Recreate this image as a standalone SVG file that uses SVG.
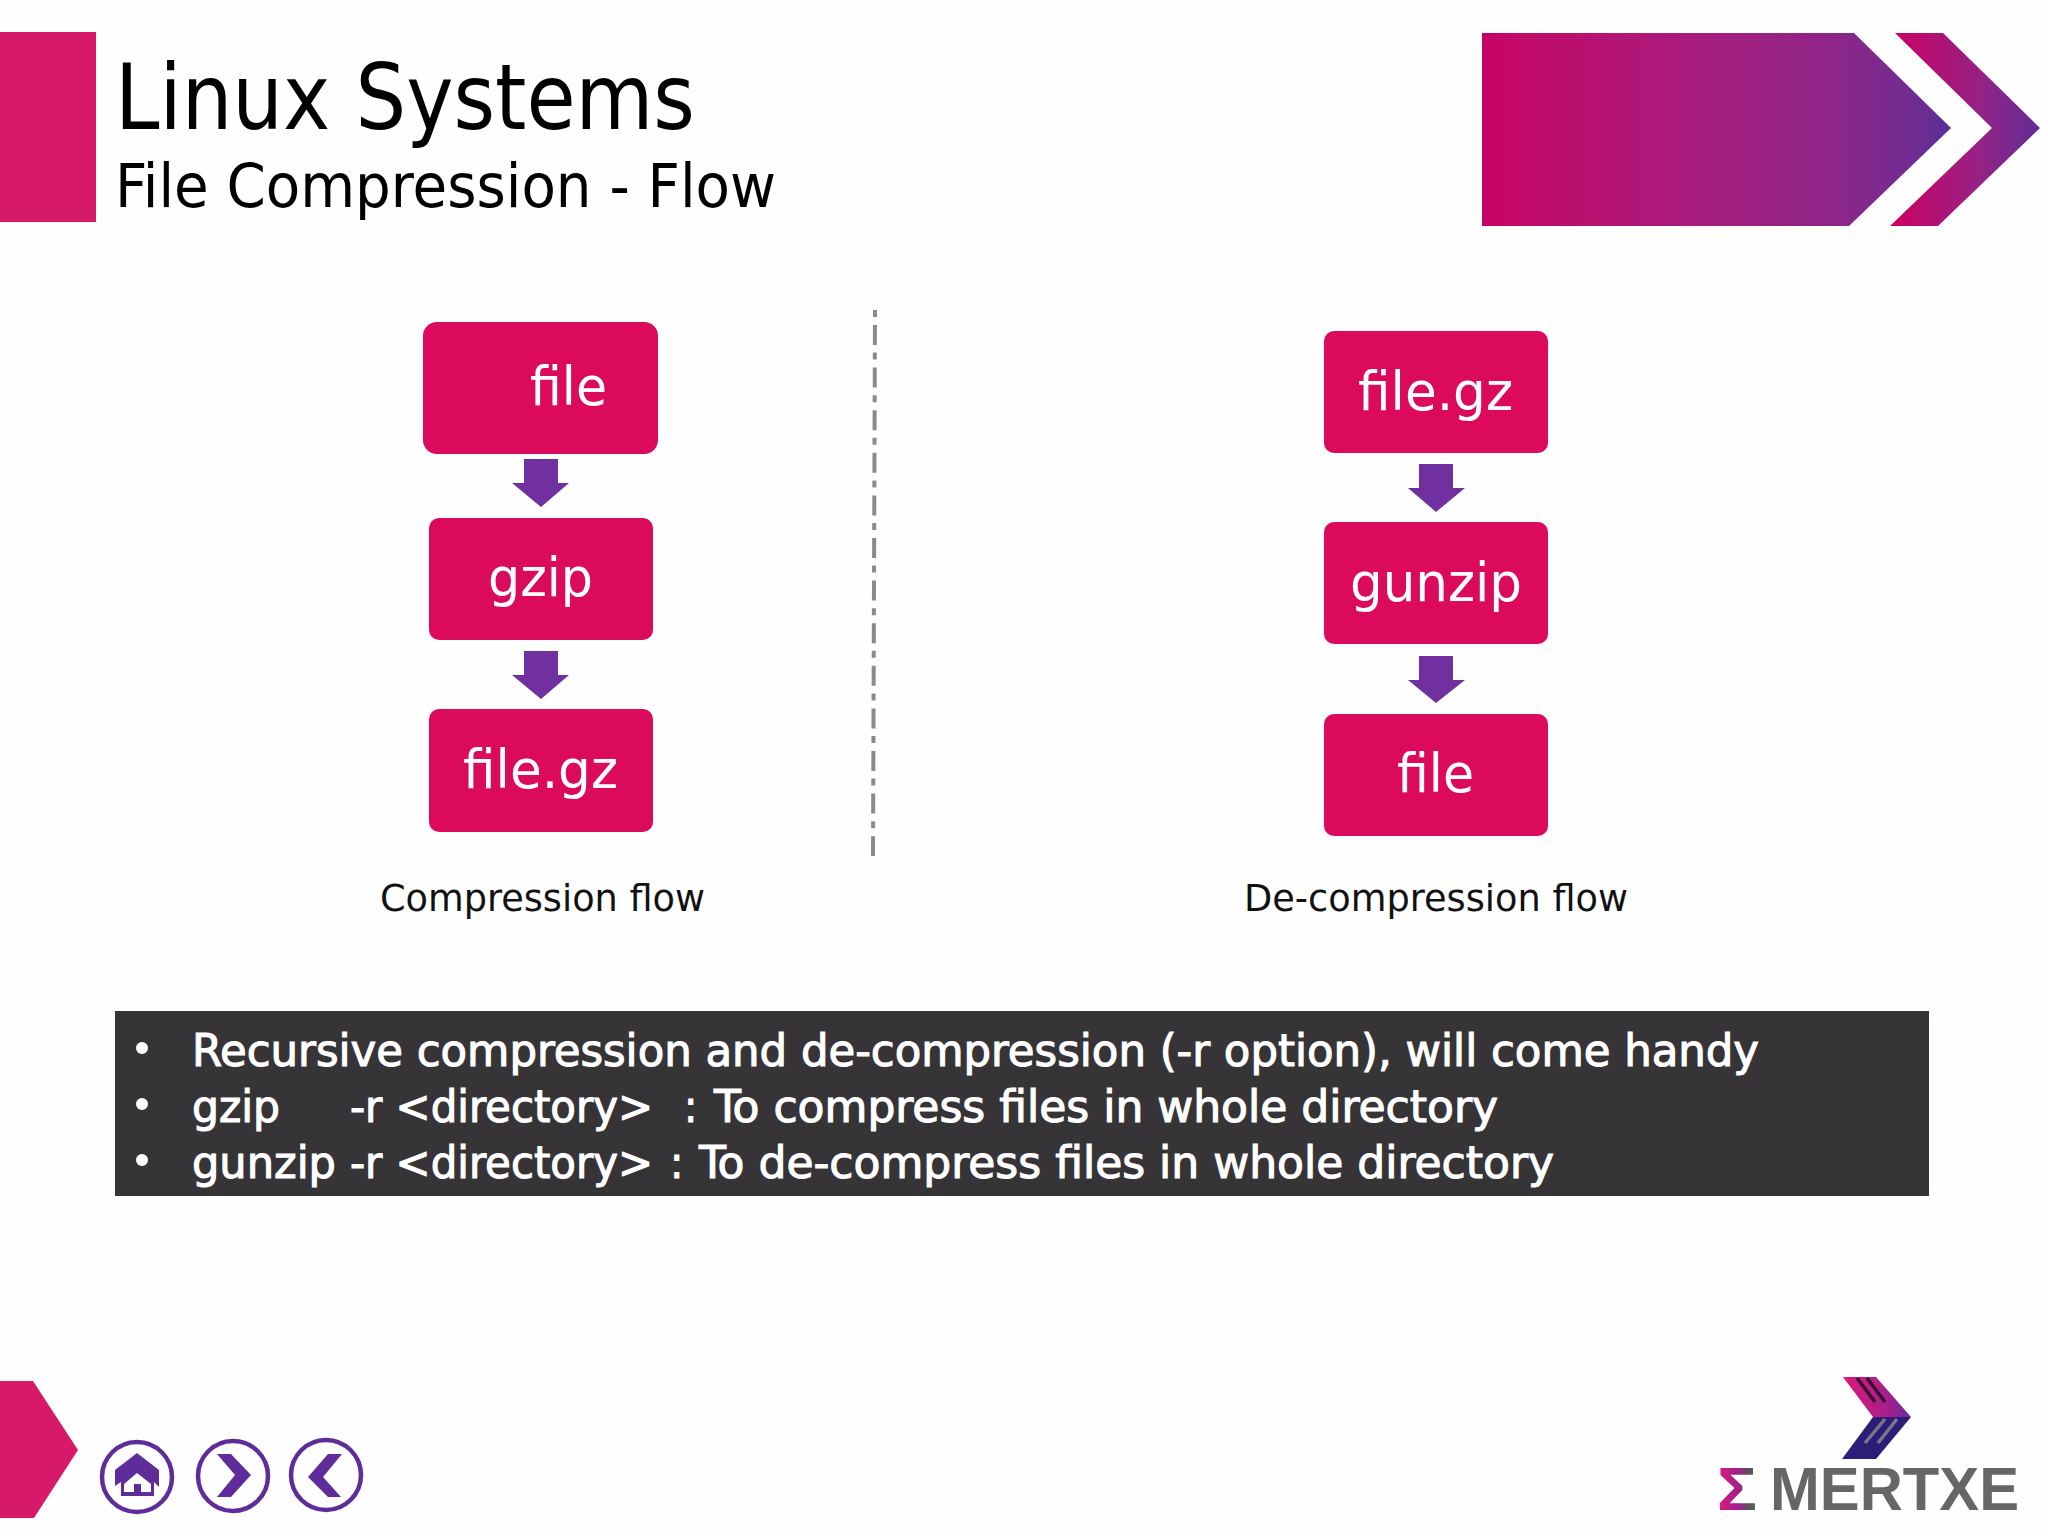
<svg xmlns="http://www.w3.org/2000/svg" width="2048" height="1536" viewBox="0 0 2048 1536">
<style>
text{font-family:"DejaVu Sans","Liberation Sans",sans-serif}
.cond{font-stretch:condensed}
.box{fill:#dc0a5c}
.lbl{fill:#fff;font-size:54px}
.arr{fill:#7030a0}
.cap{fill:#111;font-size:38px;font-stretch:condensed}
.li{fill:#fff;font-size:44px;font-stretch:condensed;stroke:#fff;stroke-width:1px}
.ring{fill:none;stroke:#5f2d99;stroke-width:4.5}
.ico{fill:#5f2d99}
.lg{font-family:"Liberation Sans",sans-serif;font-size:62px;font-weight:bold}
</style>
<defs>
<linearGradient id="g1" x1="0" x2="1" y1="0" y2="0"><stop offset="0" stop-color="#c80064"/><stop offset=".08" stop-color="#c20a6a"/><stop offset=".45" stop-color="#a81c7d"/><stop offset=".75" stop-color="#8e2688"/><stop offset=".92" stop-color="#702c92"/><stop offset="1" stop-color="#562f96"/></linearGradient>
<linearGradient id="g2" x1="0" x2="1" y1="0" y2="0"><stop offset="0" stop-color="#cc0062"/><stop offset=".6" stop-color="#962286"/><stop offset="1" stop-color="#5f2d96"/></linearGradient>
<linearGradient id="g3" x1="0" x2="1" y1="0" y2="0"><stop offset="0" stop-color="#e0187a"/><stop offset=".7" stop-color="#a0208c"/><stop offset="1" stop-color="#60309a"/></linearGradient>
<linearGradient id="g4" x1="0" x2="1" y1="0" y2="0"><stop offset="0" stop-color="#e01a78"/><stop offset=".55" stop-color="#a0208c"/><stop offset=".8" stop-color="#555"/><stop offset="1" stop-color="#666"/></linearGradient>
</defs>
<rect width="2048" height="1536" fill="#fefefe"/>

<g id="header">
<rect x="0" y="32" width="96" height="190" fill="#d61a69"/>
<text x="115" y="129" font-size="90" fill="#000" class="cond" textLength="580" lengthAdjust="spacingAndGlyphs">Linux Systems</text>
<text x="115" y="207" font-size="61" fill="#000" class="cond" textLength="661" lengthAdjust="spacingAndGlyphs">File Compression - Flow</text>
<polygon points="1482,33 1854,33 1951,128 1849,226 1482,226" fill="url(#g1)"/>
<polygon points="1895,33 1943,33 2040,128 1938,226 1890,226 1992,128" fill="url(#g2)"/>
</g>

<g id="connectors">
<polygon class="arr" id="c1" points="524,459 558,459 558,483 569,483 541,507 512,483 524,483"/>
<polygon class="arr" id="c2" points="524,651 558,651 558,675 569,675 541,699 512,675 524,675"/>
<polygon class="arr" id="c3" points="1419,464 1453,464 1453,488 1465,488 1436,512 1408,488 1419,488"/>
<polygon class="arr" id="c4" points="1419,656 1453,656 1453,680 1465,680 1436,703 1408,680 1419,680"/>
</g>

<g id="n-file"><rect class="box" x="423" y="322" width="235" height="132" rx="14"/><text class="lbl" x="530" y="405" textLength="77" lengthAdjust="spacingAndGlyphs">file</text></g>
<g id="n-gzip"><rect class="box" x="429" y="518" width="224" height="122" rx="10"/><text class="lbl" x="488" y="596" textLength="105" lengthAdjust="spacingAndGlyphs">gzip</text></g>
<g id="n-filegz"><rect class="box" x="429" y="709" width="224" height="123" rx="10"/><text class="lbl" x="463" y="788" textLength="155" lengthAdjust="spacingAndGlyphs">file.gz</text></g>
<g id="n-filegz2"><rect class="box" x="1324" y="331" width="224" height="122" rx="10"/><text class="lbl" x="1358" y="410" textLength="155" lengthAdjust="spacingAndGlyphs">file.gz</text></g>
<g id="n-gunzip"><rect class="box" x="1324" y="522" width="224" height="122" rx="10"/><text class="lbl" x="1350" y="601" textLength="172" lengthAdjust="spacingAndGlyphs">gunzip</text></g>
<g id="n-file2"><rect class="box" x="1324" y="714" width="224" height="122" rx="10"/><text class="lbl" x="1397" y="792" textLength="77" lengthAdjust="spacingAndGlyphs">file</text></g>

<g id="divider"><line x1="875" y1="310" x2="873" y2="856" stroke="#8a8a8a" stroke-width="4" stroke-dasharray="7 8 20 7.6"/></g>

<g id="captions">
<text class="cap" x="380" y="911" textLength="325" lengthAdjust="spacingAndGlyphs">Compression flow</text>
<text class="cap" x="1244" y="911" textLength="384" lengthAdjust="spacingAndGlyphs">De-compression flow</text>
</g>

<g id="notes">
<rect x="115" y="1011" width="1814" height="185" fill="#363437"/>
<circle cx="142" cy="1048" r="6" fill="#fff"/><circle cx="142" cy="1104" r="6" fill="#fff"/><circle cx="142" cy="1160" r="6" fill="#fff"/>
<text class="li" x="192" y="1066" textLength="1567" lengthAdjust="spacingAndGlyphs">Recursive compression and de-compression (-r option), will come handy</text>
<text class="li" x="192" y="1122" textLength="88" lengthAdjust="spacingAndGlyphs">gzip</text>
<text class="li" x="350" y="1122" textLength="303" lengthAdjust="spacingAndGlyphs">-r &lt;directory&gt;</text>
<text class="li" x="684" y="1122">:</text>
<text class="li" x="714" y="1122" textLength="784" lengthAdjust="spacingAndGlyphs">To compress files in whole directory</text>
<text class="li" x="192" y="1178" textLength="144" lengthAdjust="spacingAndGlyphs">gunzip</text>
<text class="li" x="350" y="1178" textLength="303" lengthAdjust="spacingAndGlyphs">-r &lt;directory&gt;</text>
<text class="li" x="670" y="1178">:</text>
<text class="li" x="699" y="1178" textLength="855" lengthAdjust="spacingAndGlyphs">To de-compress files in whole directory</text>
</g>

<g id="nav">
<polygon points="0,1381 33,1381 78,1450 34,1518 0,1518" fill="#d61a69"/>
<circle class="ring" cx="137" cy="1477" r="35"/>
<polygon class="ico" points="115,1470 137,1453 159,1470 159,1487 154,1482 154,1496 121,1496 121,1482 115,1486"/>
<polygon fill="#fff" points="137,1473 124,1484 124,1492 134,1492 134,1484 141,1484 141,1492 151,1492 151,1484"/>
<circle class="ring" cx="233" cy="1476" r="35"/>
<polygon class="ico" points="217,1454 231,1454 251,1475 231,1497 217,1497 235,1475"/>
<circle class="ring" cx="326" cy="1475" r="35"/>
<polygon class="ico" points="342,1454 328,1454 308,1477 328,1497 341,1497 323,1477"/>
</g>

<g id="logo">
<polygon points="1843,1377 1876,1377 1911,1417 1873,1417" fill="url(#g3)"/>
<polygon points="1873,1417 1911,1417 1876,1459 1842,1459" fill="#2d1d78"/>
<g stroke="#3a1030" stroke-width="3.5"><line x1="1857" y1="1378" x2="1875" y2="1402"/><line x1="1867" y1="1378" x2="1885" y2="1402"/></g>
<g stroke="#77778a" stroke-width="3.5"><line x1="1885" y1="1419" x2="1865" y2="1443"/><line x1="1897" y1="1419" x2="1878" y2="1443"/></g>
<text class="lg" x="1717" y="1510" fill="url(#g4)" textLength="40" lengthAdjust="spacingAndGlyphs">Σ</text>
<text class="lg" x="1770" y="1510" fill="#666" textLength="249" lengthAdjust="spacingAndGlyphs">MERTXE</text>
</g>
</svg>
